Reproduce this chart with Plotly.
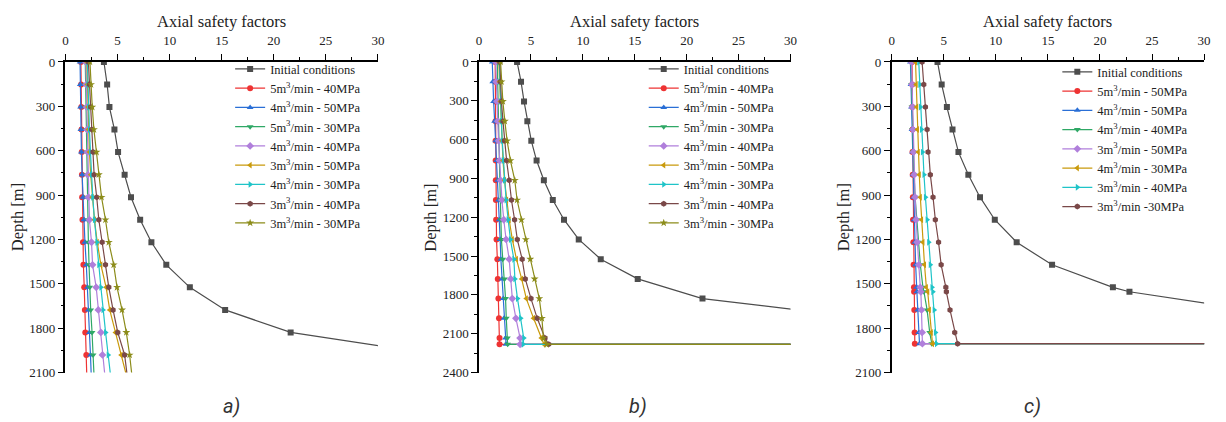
import plotly.graph_objects as go

W, H = 1226, 422

# ---------------- data ----------------
# depth stations (m), every 152.4 m
DEPTH_A = [0, 152.4, 304.8, 457.2, 609.6, 762.0, 914.4, 1066.8, 1219.2, 1371.6,
           1524.0, 1676.4, 1828.8, 1981.2, 2133.6]
DEPTH_B = [0, 152.4, 304.8, 457.2, 609.6, 762.0, 914.4, 1066.8, 1219.2, 1371.6,
           1524.0, 1676.4, 1828.8, 1981.2, 2133.6, 2182.0, 2182.0]
DEPTH_C = [0, 152.4, 304.8, 457.2, 609.6, 762.0, 914.4, 1066.8, 1219.2, 1371.6,
           1524.0, 1554.0, 1676.4, 1828.8, 1905.0, 1905.0]

# panel a)
A_INITIAL = [3.69, 4.0, 4.22, 4.7, 5.05, 5.68, 6.29, 7.17, 8.25, 9.68, 11.94, 15.33, 21.62, 36.0]
A_5_40 = [1.48, 1.5, 1.52, 1.54, 1.56, 1.58, 1.6, 1.63, 1.68, 1.72, 1.8, 1.86, 1.9, 2.0, 2.05]
A_4_50 = [1.4, 1.42, 1.45, 1.48, 1.53, 1.6, 1.68, 1.77, 1.87, 2.0, 2.12, 2.2, 2.3, 2.4, 2.48]
A_5_30 = [1.9, 1.93, 1.96, 2.0, 2.03, 2.07, 2.1, 2.15, 2.2, 2.26, 2.33, 2.42, 2.55, 2.65, 2.75]
A_4_40 = [1.95, 2.0, 2.03, 2.08, 2.12, 2.15, 2.2, 2.3, 2.5, 2.6, 2.95, 3.15, 3.4, 3.55, 3.8]
A_3_50 = [2.05, 2.1, 2.15, 2.2, 2.3, 2.42, 2.57, 2.78, 3.05, 3.4, 3.9, 4.25, 4.8, 5.35, 5.9]
A_4_30 = [2.1, 2.15, 2.22, 2.3, 2.4, 2.5, 2.62, 2.78, 3.02, 3.2, 3.4, 3.6, 3.85, 4.1, 4.35]
A_3_40 = [2.2, 2.3, 2.42, 2.52, 2.64, 2.75, 3.0, 3.2, 3.52, 3.84, 4.16, 4.57, 5.02, 5.68, 5.95]
A_3_30 = [2.35, 2.45, 2.57, 2.73, 2.98, 3.2, 3.46, 3.84, 4.16, 4.63, 4.95, 5.43, 5.84, 6.16, 6.4]

# panel b)
B_INITIAL = [3.66, 4.04, 4.33, 4.65, 5.03, 5.54, 6.24, 7.1, 8.18, 9.6, 11.72, 15.28, 21.52, 37.5]
B_5_40 = [1.55, 1.56, 1.57, 1.58, 1.59, 1.6, 1.61, 1.62, 1.64, 1.68, 1.76, 1.8, 1.86, 1.92, 1.97, 1.97, 60]
B_4_50 = [1.27, 1.32, 1.4, 1.5, 1.6, 1.7, 1.8, 1.88, 1.95, 2.03, 2.1, 2.22, 2.33, 2.4, 2.55, 2.6, 60]
B_5_30 = [1.75, 1.78, 1.82, 1.86, 1.9, 1.95, 2.0, 2.05, 2.1, 2.15, 2.28, 2.45, 2.55, 2.62, 2.72, 2.75, 60]
B_4_40 = [1.6, 1.65, 1.72, 1.8, 1.88, 1.97, 2.07, 2.2, 2.38, 2.6, 2.9, 3.05, 3.2, 3.55, 3.95, 3.95, 60]
B_3_50 = [1.9, 1.97, 2.05, 2.12, 2.2, 2.3, 2.45, 2.65, 2.9, 3.2, 3.6, 4.1, 4.55, 5.25, 6.0, 6.25, 60]
B_4_30 = [1.95, 2.0, 2.08, 2.15, 2.23, 2.33, 2.45, 2.6, 2.8, 3.02, 3.35, 3.45, 3.7, 4.0, 4.3, 4.25, 60]
B_3_40 = [2.0, 2.05, 2.15, 2.3, 2.45, 2.65, 2.9, 3.12, 3.42, 3.68, 4.15, 4.45, 5.0, 5.6, 6.35, 6.7, 60]
B_3_30 = [2.07, 2.16, 2.29, 2.48, 2.7, 3.02, 3.44, 3.66, 4.08, 4.5, 4.93, 5.35, 5.8, 6.05, 6.2, 6.5, 60]

# panel c)
C_INITIAL = [4.4, 4.8, 5.3, 5.84, 6.41, 7.36, 8.48, 9.9, 12.0, 15.4, 21.24, 22.83, 34.4]
C_5_50 = [1.95, 1.97, 1.98, 2.0, 2.0, 2.02, 2.03, 2.05, 2.08, 2.1, 2.14, 2.15, 2.17, 2.2, 2.22, 60]
C_4_50 = [1.8, 1.85, 1.9, 1.95, 2.0, 2.05, 2.1, 2.15, 2.22, 2.3, 2.4, 2.42, 2.5, 2.6, 2.67, 60]
C_4_40 = [1.85, 1.9, 1.95, 2.0, 2.07, 2.15, 2.25, 2.4, 2.55, 2.75, 3.0, 3.1, 3.4, 3.65, 3.85, 60]
C_3_50 = [1.9, 1.95, 2.0, 2.05, 2.1, 2.17, 2.25, 2.35, 2.45, 2.6, 2.75, 2.8, 2.86, 2.92, 2.95, 60]
C_4_30 = [2.29, 2.35, 2.4, 2.47, 2.55, 2.65, 2.75, 2.87, 3.0, 3.15, 3.33, 3.46, 3.62, 3.8, 3.92, 60]
C_3_40 = [2.6, 2.7, 2.76, 2.86, 2.95, 3.1, 3.24, 3.4, 3.55, 3.7, 3.87, 3.95, 4.08, 4.2, 4.3, 60]
C_3_30 = [2.92, 3.08, 3.24, 3.4, 3.49, 3.71, 3.97, 4.19, 4.5, 4.75, 5.2, 5.25, 5.6, 6.05, 6.33, 60]

Y_MAX = [2100, 2400, 2100]
PANEL_TAGS = ["a)", "b)", "c)"]

# ---------------- styling ----------------
COLORS = ["#4D4D4D", "#EE3333", "#2A6FD6", "#2FA866", "#B07FDB",
          "#C99A0C", "#1FC4C8", "#7A4848", "#8C8C1A"]
SYMBOLS = ["square", "circle", "triangle-up", "triangle-down", "diamond",
           "triangle-left", "triangle-right", "hexagon", "star"]
SERIF = "Times New Roman"


def lab(rate, mpa, sep=" - "):
    return f"{rate}m<sup>3</sup>/min{sep}{mpa}MPa"


panels = [
    {
        "series": [
            ("Initial conditions", DEPTH_A[:len(A_INITIAL)], A_INITIAL, 0),
            (lab(5, 40), DEPTH_A, A_5_40, 1),
            (lab(4, 50), DEPTH_A, A_4_50, 2),
            (lab(5, 30), DEPTH_A, A_5_30, 3),
            (lab(4, 40), DEPTH_A, A_4_40, 4),
            (lab(3, 50), DEPTH_A, A_3_50, 5),
            (lab(4, 30), DEPTH_A, A_4_30, 6),
            (lab(3, 40), DEPTH_A, A_3_40, 7),
            (lab(3, 30), DEPTH_A, A_3_30, 8),
        ],
    },
    {
        "series": [
            ("Initial conditions", DEPTH_B[:len(B_INITIAL)], B_INITIAL, 0),
            (lab(5, 40), DEPTH_B, B_5_40, 1),
            (lab(4, 50), DEPTH_B, B_4_50, 2),
            (lab(5, 30), DEPTH_B, B_5_30, 3),
            (lab(4, 40), DEPTH_B, B_4_40, 4),
            (lab(3, 50), DEPTH_B, B_3_50, 5),
            (lab(4, 30), DEPTH_B, B_4_30, 6),
            (lab(3, 40), DEPTH_B, B_3_40, 7),
            (lab(3, 30), DEPTH_B, B_3_30, 8),
        ],
    },
    {
        "series": [
            ("Initial conditions", DEPTH_C[:len(C_INITIAL)], C_INITIAL, 0),
            (lab(5, 50), DEPTH_C, C_5_50, 1),
            (lab(4, 50), DEPTH_C, C_4_50, 2),
            (lab(4, 40), DEPTH_C, C_4_40, 3),
            (lab(3, 50), DEPTH_C, C_3_50, 4),
            (lab(4, 30), DEPTH_C, C_4_30, 5),
            (lab(3, 40), DEPTH_C, C_3_40, 6),
            (lab(3, 30, " -"), DEPTH_C, C_3_30, 7),
        ],
    },
]

# plot-area boxes in pixels: (left, right)
PLOT_X = [(63, 378), (480, 794), (896, 1211)]
PLOT_TOP, PLOT_BOTTOM = 57, 379
LEGEND_X = [229, 646, 1063]
LEGEND_Y = [49, 49, 52]
TAG_X = [230, 640, 1038]


def px_x(v):
    return v / W


def px_y(v):
    return 1 - v / H


fig = go.Figure()
layout = {}
annotations = []
y_dom = [px_y(PLOT_BOTTOM), px_y(PLOT_TOP)]

for i, panel in enumerate(panels):
    n = i + 1
    xa, ya = f"x{n}" if n > 1 else "x", f"y{n}" if n > 1 else "y"
    xkey = f"xaxis{n}" if n > 1 else "xaxis"
    ykey = f"yaxis{n}" if n > 1 else "yaxis"
    legend_name = f"legend{n}" if n > 1 else "legend"
    x_dom = [px_x(PLOT_X[i][0]), px_x(PLOT_X[i][1])]

    for name, depth, vals, ci in panel["series"]:
        fig.add_trace(go.Scatter(
            x=vals, y=depth, name=name, mode="lines+markers",
            xaxis=xa, yaxis=ya, legend=legend_name,
            line=dict(color=COLORS[ci], width=1.2),
            marker=dict(color=COLORS[ci], symbol=SYMBOLS[ci], size=6,
                        line=dict(width=0)),
        ))

    # main (labelled) axes: top and left, ticks pointing out
    layout[xkey] = dict(
        domain=x_dom, anchor=ya, side="top", range=[0, 30], dtick=5,
        ticks="outside", ticklen=6, tickwidth=1, tickcolor="#000",
        minor=dict(dtick=2.5, ticks="outside", ticklen=3, tickcolor="#000"),
        showline=True, linecolor="#000", linewidth=1.5,
        showgrid=False, zeroline=False, ticklabelstandoff=4,
        tickfont=dict(family=SERIF, size=13, color="#222"),
    )
    layout[ykey] = dict(
        domain=y_dom, anchor=xa, range=[Y_MAX[i], 0], dtick=300,
        ticks="outside", ticklen=6, tickwidth=1, tickcolor="#000",
        minor=dict(dtick=150, ticks="outside", ticklen=3, tickcolor="#000"),
        showline=True, linecolor="#000", linewidth=1.5,
        showgrid=False, zeroline=False,
        tickfont=dict(family=SERIF, size=13, color="#222"),
    )
    # opposite frame axes: bottom and right, ticks pointing in
    bx, by = 3 + n, 3 + n
    layout[f"xaxis{bx}"] = dict(
        overlaying=xa, anchor=ya, side="bottom", range=[0, 30], dtick=5,
        ticks="inside", ticklen=6, tickwidth=1, tickcolor="#000",
        minor=dict(dtick=2.5, ticks="inside", ticklen=3, tickcolor="#000"),
        showline=True, linecolor="#000", linewidth=1.5,
        showticklabels=False, showgrid=False, zeroline=False,
    )
    layout[f"yaxis{by}"] = dict(
        overlaying=ya, anchor=xa, side="right", range=[Y_MAX[i], 0], dtick=300,
        ticks="inside", ticklen=6, tickwidth=1, tickcolor="#000",
        minor=dict(dtick=150, ticks="inside", ticklen=3, tickcolor="#000"),
        showline=True, linecolor="#000", linewidth=1.5,
        showticklabels=False, showgrid=False, zeroline=False,
    )

    layout[legend_name] = dict(
        x=px_x(LEGEND_X[i]), y=px_y(LEGEND_Y[i]), xanchor="left", yanchor="top",
        bgcolor="rgba(0,0,0,0)", borderwidth=0, tracegroupgap=0,
        font=dict(family=SERIF, size=12.5, color="#222"),
        itemwidth=30,
    )

    cx = (PLOT_X[i][0] + PLOT_X[i][1]) / 2
    annotations.append(dict(
        text="Axial safety factors", x=px_x(cx), y=px_y(15), xref="paper", yref="paper",
        showarrow=False, xanchor="center", yanchor="middle",
        font=dict(family=SERIF, size=16.5, color="#222"),
    ))
    annotations.append(dict(
        text="Depth [m]", x=px_x(PLOT_X[i][0] - 49), y=px_y((PLOT_TOP + PLOT_BOTTOM) / 2),
        xref="paper", yref="paper", showarrow=False, textangle=-90,
        xanchor="center", yanchor="middle",
        font=dict(family=SERIF, size=16.5, color="#222"),
    ))
    annotations.append(dict(
        text=f"<i>{PANEL_TAGS[i]}</i>", x=px_x(TAG_X[i]), y=px_y(414),
        xref="paper", yref="paper", showarrow=False,
        xanchor="center", yanchor="middle",
        font=dict(family="Roboto", size=20, color="#333"),
    ))

fig.update_layout(
    width=W, height=H, margin=dict(l=0, r=0, t=0, b=0),
    paper_bgcolor="white", plot_bgcolor="white",
    font=dict(family=SERIF),
    showlegend=True, annotations=annotations, **layout,
)

fig.write_html("out.html")
